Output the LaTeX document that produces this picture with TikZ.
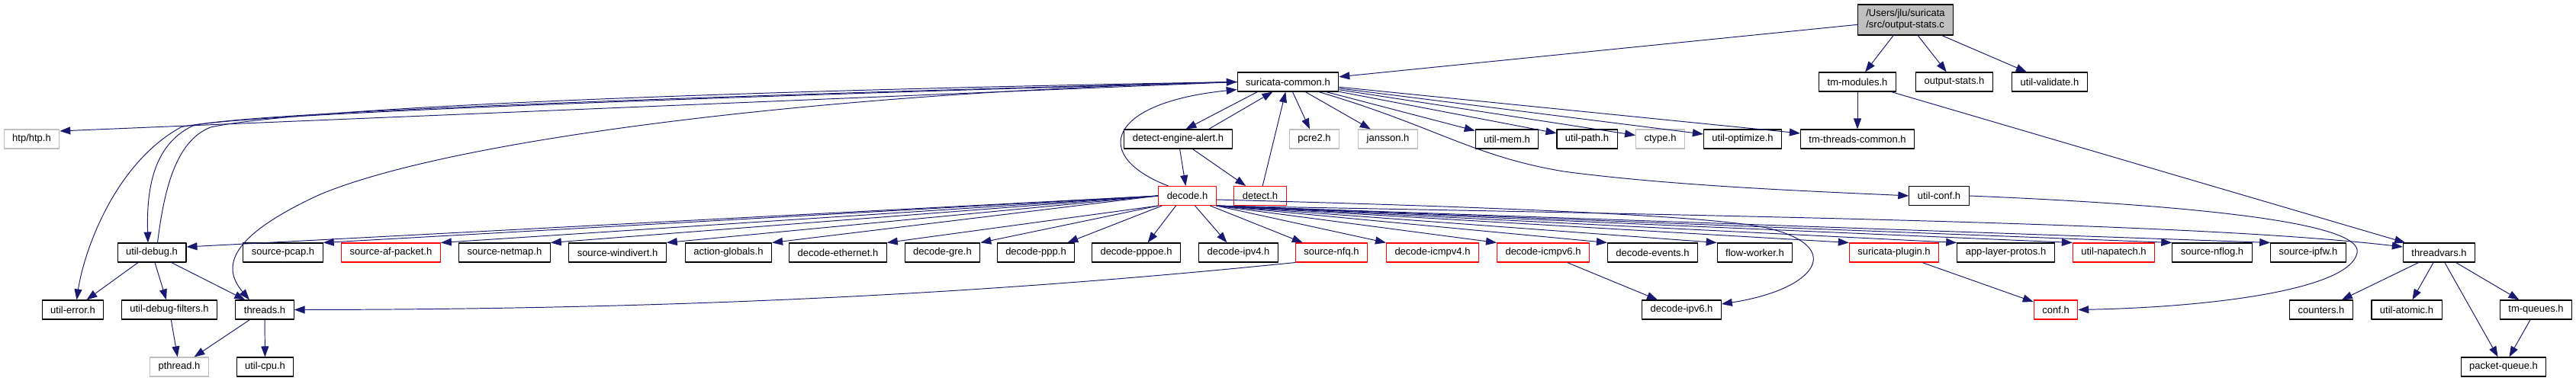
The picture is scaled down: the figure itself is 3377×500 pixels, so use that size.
\documentclass[tikz,border=0pt]{standalone}
\usepackage{fontspec}
\setmainfont{Liberation Sans}
\usetikzlibrary{arrows.meta}
\definecolor{edgeblue}{HTML}{191970}
\definecolor{missgray}{HTML}{BFBFBF}

\begin{document}
\begin{tikzpicture}[x=0.02cm, y=-0.02cm, line join=round,
    box/.style={draw=black, fill=white, line width=0.6pt, inner xsep=0.22cm, inner ysep=0pt,
      minimum height=0.5cm, font=\fontsize{7.4}{8.5}\selectfont},
    redbox/.style={box, draw=red},
    graybox/.style={box, draw=missgray},
    root/.style={box, fill=missgray, align=left, minimum height=0.8cm},
    inc/.style={draw=edgeblue, line width=0.55pt, -{Triangle[length=0.28cm, width=0.2cm]}}]
  \useasboundingbox (0,0) rectangle (3377,500);

  % 1. Fichier racine et premier niveau
  \node[root] (root) at (2498,26) {/Users/jlu/suricata\\/src/output-stats.c};
  \node[box] (suricommon) at (1688.5,107.5) {suricata-common.h};
  \node[box] (tmmodules) at (2435,107.5) {tm-modules.h};
  \node[box] (outstats) at (2562,107.5) {output-stats.h};
  \node[box] (utilvalidate) at (2687,107.5) {util-validate.h};

  % 2. Deuxieme niveau
  \node[graybox] (htp) at (41.5,182.5) {htp/htp.h};
  \node[box] (dealert) at (1544.5,182.5) {detect-engine-alert.h};
  \node[graybox] (pcre) at (1723,182.5) {pcre2.h};
  \node[graybox] (jansson) at (1819.5,182.5) {jansson.h};
  \node[box] (utilmem) at (1975.5,182.5) {util-mem.h};
  \node[box] (utilpath) at (2080.5,182.5) {util-path.h};
  \node[graybox] (ctype) at (2176.5,182.5) {ctype.h};
  \node[box] (utilopt) at (2284.5,182.5) {util-optimize.h};
  \node[box] (tmthreads) at (2435,182.5) {tm-threads-common.h};

  % 3. decode.h, detect.h, util-conf.h
  \node[redbox] (decode) at (1556.5,257) {decode.h};
  \node[redbox] (detect) at (1652,257) {detect.h};
  \node[box] (utilconf) at (2542,257) {util-conf.h};

  % 4. Rangee des en-tetes inclus par decode.h
  \node[box] (utildebug) at (199,331.5) {util-debug.h};
  \node[box] (srcpcap) at (371,331.5) {source-pcap.h};
  \node[redbox] (srcafp) at (512.5,331.5) {source-af-packet.h};
  \node[box] (srcnetmap) at (661.5,331.5) {source-netmap.h};
  \node[box] (srcwindivert) at (809.5,331.5) {source-windivert.h};
  \node[box] (actglobals) at (955,331.5) {action-globals.h};
  \node[box] (decether) at (1098.5,331.5) {decode-ethernet.h};
  \node[box] (decgre) at (1235.5,331.5) {decode-gre.h};
  \node[box] (decppp) at (1358,331.5) {decode-ppp.h};
  \node[box] (decpppoe) at (1489.5,331.5) {decode-pppoe.h};
  \node[box] (decipv4) at (1623.5,331.5) {decode-ipv4.h};
  \node[redbox] (srcnfq) at (1745.5,331.5) {source-nfq.h};
  \node[redbox] (decicmp4) at (1878,331.5) {decode-icmpv4.h};
  \node[redbox] (decicmp6) at (2023,331.5) {decode-icmpv6.h};
  \node[box] (decevents) at (2166.5,331.5) {decode-events.h};
  \node[box] (flowworker) at (2300.5,331.5) {flow-worker.h};
  \node[redbox] (suriplugin) at (2483,331.5) {suricata-plugin.h};
  \node[box] (alprotos) at (2629.5,331.5) {app-layer-protos.h};
  \node[redbox] (napatech) at (2771,331.5) {util-napatech.h};
  \node[box] (srcnflog) at (2900,331.5) {source-nflog.h};
  \node[box] (srcipfw) at (3026,331.5) {source-ipfw.h};
  \node[box] (threadvars) at (3197.5,331.5) {threadvars.h};

  % 5. Niveaux inferieurs
  \node[box] (utilerror) at (95.5,406.5) {util-error.h};
  \node[box] (debugfilters) at (222,406.5) {util-debug-filters.h};
  \node[box] (threads) at (347,406.5) {threads.h};
  \node[box] (decipv6) at (2204.5,406.5) {decode-ipv6.h};
  \node[redbox] (conf) at (2695,406.5) {conf.h};
  \node[box] (counters) at (3043,406.5) {counters.h};
  \node[box] (utilatomic) at (3155,406.5) {util-atomic.h};
  \node[box] (tmqueues) at (3324.5,406.5) {tm-queues.h};
  \node[graybox] (pthread) at (235,481.5) {pthread.h};
  \node[box] (utilcpu) at (347.5,481.5) {util-cpu.h};
  \node[box] (pktqueue) at (3282,481.5) {packet-queue.h};

  % 6. Liens depuis la racine
  \draw[inc] (root) -- (suricommon);
  \draw[inc] (root) -- (tmmodules);
  \draw[inc] (root) -- (outstats);
  \draw[inc] (root) -- (utilvalidate);
  \draw[inc] (tmmodules) -- (tmthreads);
  \draw[inc] (tmmodules) -- (threadvars);

  % 7. Liens depuis suricata-common.h
  \draw[inc] (suricommon) -- (pcre);
  \draw[inc] (suricommon) -- (jansson);
  \draw[inc] (suricommon) -- (utilmem);
  \draw[inc] (suricommon) -- (utilpath);
  \draw[inc] (suricommon) -- (ctype);
  \draw[inc] (suricommon) -- (utilopt);
  \draw[inc] (suricommon) -- (tmthreads);
  \draw[inc] ([xshift=0.8cm]suricommon.south) .. controls (1880,165) and (1930,205) .. (2050,225)
    .. controls (2200,245) and (2400,252) .. (utilconf.west);
  \draw[inc] ([xshift=-0.8cm]suricommon.south) -- ([xshift=0.2cm]dealert.north);
  \draw[inc] ([xshift=0.8cm]dealert.north) -- ([xshift=-0.4cm]suricommon.south);
  \draw[inc] (detect) -- (suricommon);
  \draw[inc] ([xshift=-0.5cm]decode.north) .. controls (1430,205) and (1450,135) .. ([yshift=0.06cm]suricommon.south west);
  \draw[inc] (suricommon.west) -- ([yshift=-0.05cm]htp.north east);
  \draw[inc] (suricommon.west) .. controls (900,128) and (300,150) .. (237,167)
    .. controls (150,215) and (110,330) .. ([xshift=0.1cm]utilerror.north);
  \draw[inc] (suricommon.west) .. controls (900,126) and (320,148) .. (253,165)
    .. controls (200,190) and (192,250) .. ([xshift=-0.1cm]utildebug.north);
  \draw[inc] ([xshift=0.15cm]utildebug.north) .. controls (215,250) and (230,185) .. (276,167)
    .. controls (400,140) and (1000,118) .. (suricommon.west);
  \draw[inc] (suricommon.west) .. controls (1100,120) and (600,180) .. (420,255)
    .. controls (300,310) and (290,350) .. ([xshift=-0.4cm]threads.north);
  \draw[inc] (dealert) -- (decode);
  \draw[inc] (dealert) -- (detect);

  % 8. Liens depuis decode.h
  \draw[inc] (decode.west) -- ([yshift=0.15cm]utildebug.east);
  \draw[inc] (decode.west) -- (srcpcap.north east);
  \draw[inc] (decode.west) -- (srcafp.north east);
  \draw[inc] (decode.west) -- (srcnetmap.north east);
  \draw[inc] (decode.west) -- (srcwindivert.north east);
  \draw[inc] (decode.west) -- (actglobals.north east);
  \draw[inc] (decode.south west) -- (decether.north east);
  \draw[inc] (decode.south west) -- (decgre.north east);
  \draw[inc] ([xshift=0.1cm]decode.south west) -- ([xshift=-0.2cm]decppp.north east);
  \draw[inc] ([xshift=-0.3cm]decode.south) -- ([xshift=0.3cm]decpppoe.north);
  \draw[inc] ([xshift=0.2cm]decode.south) -- ([xshift=-0.3cm]decipv4.north);
  \draw[inc] ([xshift=0.6cm]decode.south) -- ([xshift=0.2cm]srcnfq.north west);
  \draw[inc] (decode.south east) -- (decicmp4.north west);
  \draw[inc] (decode.south east) -- (decicmp6.north west);
  \draw[inc] (decode.south east) -- (decevents.north west);
  \draw[inc] (decode.south east) -- (flowworker.north west);
  \draw[inc] (decode.south east) -- (suriplugin.north west);
  \draw[inc] (decode.south east) -- (alprotos.north west);
  \draw[inc] (decode.south east) -- (napatech.north west);
  \draw[inc] (decode.south east) -- (srcnflog.north west);
  \draw[inc] (decode.south east) -- (srcipfw.north west);
  \draw[inc] (decode.south east) .. controls (2400,285) and (2900,295) .. ([yshift=0.15cm]threadvars.west);
  \draw[inc] ([yshift=-0.1cm]decode.east) .. controls (1900,270) and (2250,282) .. (2320,300)
    .. controls (2420,325) and (2380,380) .. ([yshift=0.15cm]decipv6.east);

  % 9. Autres liens
  \draw[inc] (decicmp6) -- (decipv6);
  \draw[inc] (suriplugin) -- (conf);
  \draw[inc] (utilconf.east) .. controls (2850,268) and (3100,290) .. (3090,332)
    .. controls (3080,380) and (2900,403) .. (conf.east);
  \draw[inc] (srcnfq.south west) .. controls (1300,385) and (900,406) .. (threads.east);
  \draw[inc] (utildebug) -- (utilerror);
  \draw[inc] (utildebug) -- (debugfilters);
  \draw[inc] (utildebug) -- (threads);
  \draw[inc] (debugfilters) -- (pthread);
  \draw[inc] (threads) -- (pthread);
  \draw[inc] (threads) -- (utilcpu);
  \draw[inc] (threadvars) -- (counters);
  \draw[inc] (threadvars) -- (utilatomic);
  \draw[inc] (threadvars) -- (pktqueue);
  \draw[inc] (threadvars) -- (tmqueues);
  \draw[inc] (tmqueues) -- (pktqueue);
\end{tikzpicture}
\end{document}
